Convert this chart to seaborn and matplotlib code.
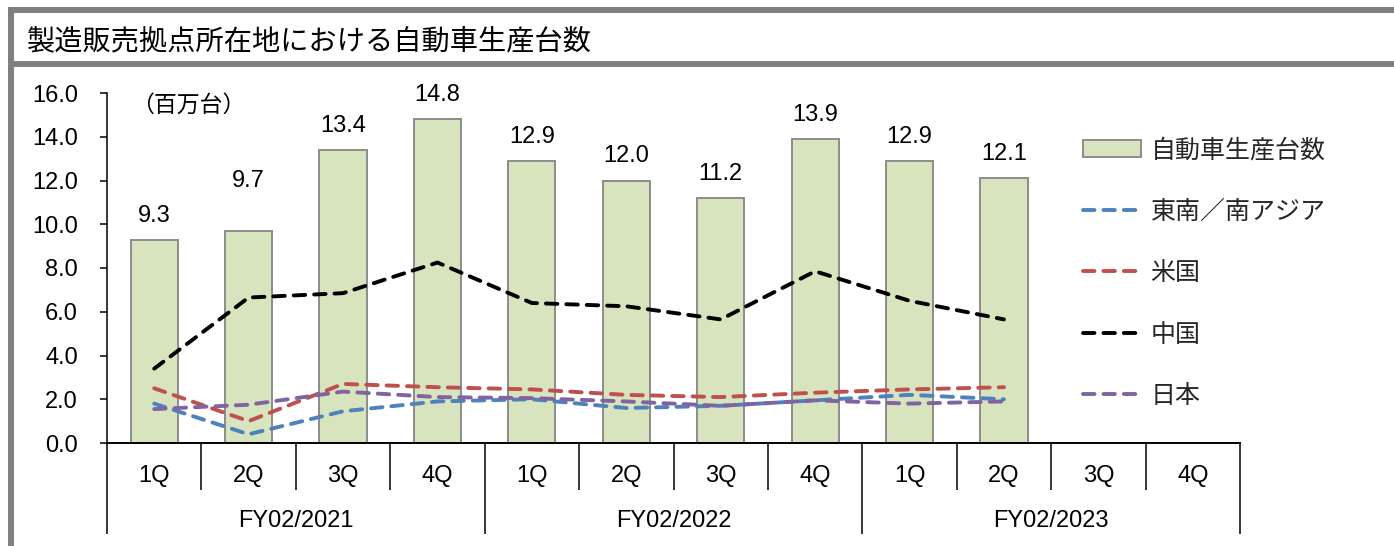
import numpy as np
import pandas as pd
import matplotlib
matplotlib.use("Agg")
import matplotlib.pyplot as plt
from matplotlib.patches import Rectangle, Patch
from matplotlib.lines import Line2D
import seaborn as sns

# ---- data (million units) ----
fiscal_years = ["FY02/2021", "FY02/2022", "FY02/2023"]
quarters = ["1Q", "2Q", "3Q", "4Q"]
total_units = [9.3, 9.7, 13.4, 14.8, 12.9, 12.0, 11.2, 13.9, 12.9, 12.1, np.nan, np.nan]
se_s_asia = [1.8, 0.4, 1.45, 1.9, 2.0, 1.6, 1.7, 1.95, 2.2, 2.0]
usa = [2.5, 1.0, 2.7, 2.55, 2.45, 2.2, 2.1, 2.3, 2.45, 2.55]
china = [3.4, 6.65, 6.85, 8.25, 6.4, 6.25, 5.65, 7.85, 6.5, 5.65]
japan = [1.55, 1.75, 2.35, 2.1, 2.05, 1.9, 1.7, 1.95, 1.8, 1.9]

bar_name = "自動車生産台数"
series_names = ["東南／南アジア", "米国", "中国", "日本"]
series_values = [se_s_asia, usa, china, japan]
series_colors = ["#4F81BD", "#C0504D", "#000000", "#8064A2"]

title_text = "製造販売拠点所在地における自動車生産台数"
unit_text = "（百万台）"

periods = [f"{fy} {q}" for fy in fiscal_years for q in quarters]
df = pd.DataFrame({"period": periods, "units": total_units})

# ---- style ----
sns.set_theme(style="white")
plt.rcParams["font.family"] = ["Liberation Sans", "Noto Sans CJK JP", "DejaVu Sans"]
jp_font = ["Noto Sans CJK JP", "DejaVu Sans"]
num_size = 17

W, H = 1394, 546
fig = plt.figure(figsize=(W / 100, H / 100), dpi=100)
fig.patch.set_facecolor("white")

# frame bands
gray = "#808080"
fig.patches.append(Rectangle((8 / W, 1 - 13 / H), 1 - 8 / W, 6 / H, transform=fig.transFigure,
                             facecolor=gray, edgecolor="none"))
fig.patches.append(Rectangle((8 / W, 1 - 67 / H), 1 - 8 / W, 6 / H, transform=fig.transFigure,
                             facecolor=gray, edgecolor="none"))
fig.patches.append(Rectangle((8 / W, 0), 6 / W, 1 - 7 / H, transform=fig.transFigure,
                             facecolor=gray, edgecolor="none"))

fig.text(27 / W, 1 - 41 / H, title_text, family=jp_font, fontsize=20.3,
         ha="left", va="center", color="black")

ax_left, ax_right, ax_top, ax_bottom = 107, 1240, 93, 443
ax = fig.add_axes([ax_left / W, 1 - ax_bottom / H, (ax_right - ax_left) / W, (ax_bottom - ax_top) / H])
ax.set_facecolor("none")

sns.barplot(data=df, x="period", y="units", order=periods, color="#D7E4BD",
            edgecolor="#8C8C8C", linewidth=1.4, width=0.5, saturation=1,
            errorbar=None, ax=ax, zorder=2)

for name, vals, col in zip(series_names, series_values, series_colors):
    sns.lineplot(x=np.arange(len(vals)), y=vals, color=col, linewidth=2.8,
                 ax=ax, zorder=3, sort=False)
for ln in ax.lines:
    ln.set_dashes((2.95, 2.3))
    ln.set_dash_capstyle("round")

# value labels above the bars
for i, v in enumerate(total_units):
    if np.isnan(v):
        continue
    lift = 50 if i == 1 else 24
    ax.annotate(f"{v:.1f}", (i, v), xytext=(0, lift * 0.72), textcoords="offset points",
                ha="center", va="center", fontsize=num_size, color="black")

ax.set_xlim(-0.5, 11.5)
ax.set_ylim(0, 16)
ax.set_yticks(np.arange(0, 16.1, 2))
ax.set_yticklabels([f"{t:.1f}" for t in np.arange(0, 16.1, 2)])
ax.set_xlabel("")
ax.set_ylabel("")
ax.tick_params(axis="x", bottom=False, labelbottom=False)
ax.tick_params(axis="y", left=True, direction="out", length=5, width=1.1,
               pad=16, labelsize=num_size, colors="black")
for s in ["top", "right"]:
    ax.spines[s].set_visible(False)
ax.spines["left"].set_color("black")
ax.spines["left"].set_linewidth(1.1)
ax.spines["bottom"].set_color("black")
ax.spines["bottom"].set_linewidth(1.4)

# two-tier category axis
px = ax_bottom - ax_top
xt = ax.get_xaxis_transform()
for b in np.arange(-0.5, 12, 1):
    depth = 91 if (b + 0.5) % 4 == 0 else 47
    ax.plot([b, b], [0, -depth / px], transform=xt, color="black", lw=1.1,
            clip_on=False, solid_capstyle="butt")
for i, p in enumerate(periods):
    ax.text(i, -33 / px, quarters[i % 4], transform=xt, ha="center", va="center",
            fontsize=num_size, color="black")
for j, fy in enumerate(fiscal_years):
    ax.text(j * 4 + 1.5, -78 / px, fy, transform=xt, ha="center", va="center",
            fontsize=num_size, color="black")

fig.text(188 / W, 1 - 105 / H, unit_text, family=jp_font, fontsize=16.5,
         ha="center", va="center", color="black")

# legend
handles = [Patch(facecolor="#D7E4BD", edgecolor="#8C8C8C", linewidth=1.4)]
for col in series_colors:
    handles.append(Line2D([0], [0], color=col, linewidth=2.8, dashes=(2.95, 2.3),
                          dash_capstyle="round"))
labels = [bar_name] + series_names
leg = fig.legend(handles, labels, loc="upper left", bbox_to_anchor=(1083 / W, 1 - 137 / H),
                 frameon=False, borderpad=0, borderaxespad=0, handlelength=2.3,
                 handletextpad=0.4, labelspacing=1.42,
                 prop={"family": jp_font, "size": 18})

fig.savefig("out.png", dpi=100, facecolor="white")
